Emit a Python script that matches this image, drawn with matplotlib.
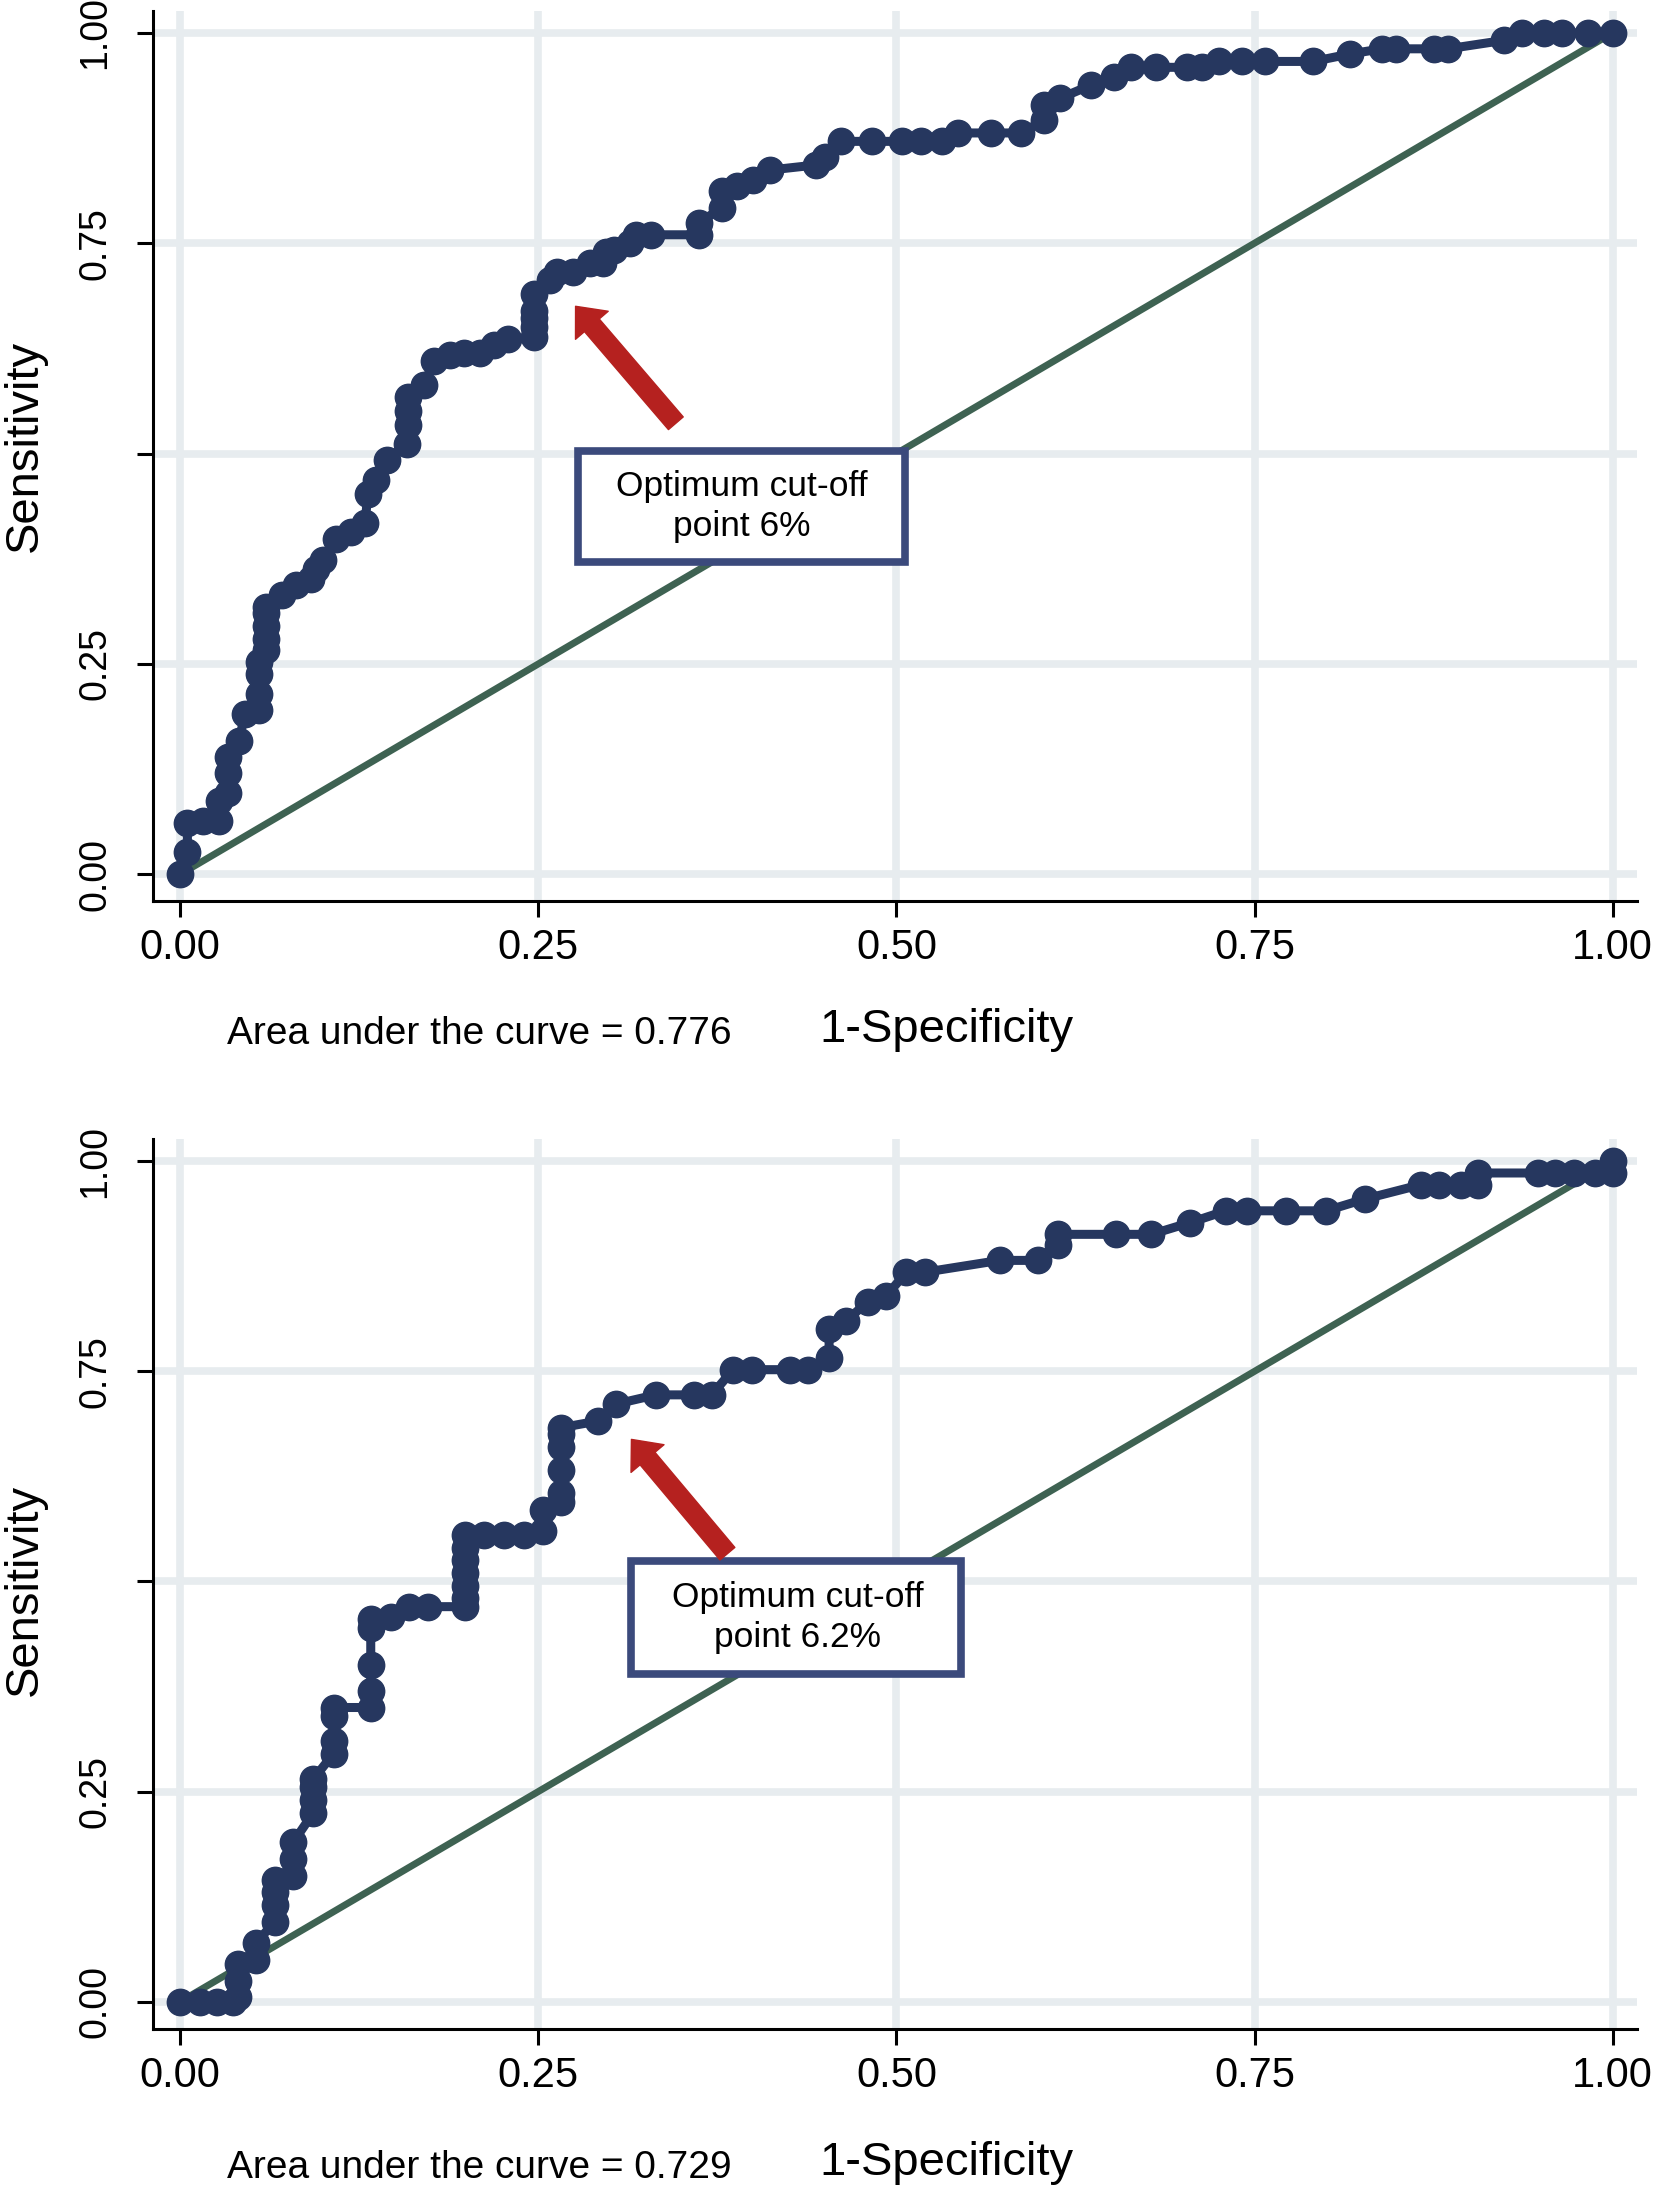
import matplotlib
matplotlib.use("Agg")
import matplotlib.pyplot as plt
from matplotlib.patches import Rectangle

plt.rcParams['font.family'] = ['Liberation Sans', 'DejaVu Sans']

# ROC data (1-specificity, sensitivity)
top_fpr = [0.0, 0.005, 0.005, 0.016, 0.027, 0.027, 0.033, 0.033, 0.033, 0.041, 0.045,
           0.055, 0.055, 0.055, 0.055, 0.06, 0.06, 0.06, 0.06, 0.06, 0.071, 0.081, 0.091,
           0.095, 0.1, 0.109, 0.119, 0.129, 0.131, 0.137, 0.144, 0.158, 0.159, 0.159, 0.159,
           0.17, 0.177, 0.188, 0.198, 0.209, 0.219, 0.229, 0.247, 0.247, 0.247, 0.247, 0.247,
           0.258, 0.263, 0.274, 0.286, 0.295, 0.297, 0.303, 0.314, 0.318, 0.329, 0.362, 0.362,
           0.378, 0.378, 0.389, 0.4, 0.412, 0.444, 0.45, 0.461, 0.483, 0.504, 0.517, 0.532,
           0.543, 0.566, 0.587, 0.603, 0.603, 0.614, 0.636, 0.652, 0.664, 0.681, 0.703, 0.713,
           0.725, 0.741, 0.757, 0.791, 0.817, 0.839, 0.849, 0.875, 0.885, 0.924, 0.937, 0.952,
           0.965, 0.983, 1.0]
top_tpr = [0.0, 0.026, 0.061, 0.063, 0.063, 0.087, 0.097, 0.12, 0.139, 0.158, 0.19,
           0.195, 0.214, 0.238, 0.252, 0.266, 0.28, 0.295, 0.31, 0.318, 0.332, 0.344, 0.351,
           0.363, 0.374, 0.398, 0.407, 0.417, 0.452, 0.468, 0.492, 0.511, 0.534, 0.55, 0.567,
           0.581, 0.61, 0.617, 0.619, 0.619, 0.629, 0.636, 0.638, 0.65, 0.661, 0.67, 0.69,
           0.706, 0.716, 0.716, 0.726, 0.726, 0.74, 0.742, 0.75, 0.76, 0.76, 0.76, 0.774,
           0.792, 0.812, 0.818, 0.825, 0.837, 0.843, 0.853, 0.871, 0.871, 0.871, 0.871, 0.871,
           0.881, 0.881, 0.881, 0.896, 0.914, 0.922, 0.938, 0.948, 0.959, 0.959, 0.959, 0.959,
           0.966, 0.966, 0.966, 0.966, 0.975, 0.981, 0.981, 0.981, 0.981, 0.991, 1.0, 1.0,
           1.0, 1.0, 1.0]

bottom_fpr = [0.0, 0.014, 0.026, 0.037, 0.04, 0.04, 0.04, 0.053, 0.053, 0.066, 0.066, 0.066,
              0.066, 0.079, 0.079, 0.079, 0.093, 0.093, 0.093, 0.093, 0.107, 0.107, 0.107,
              0.107, 0.133, 0.133, 0.133, 0.133, 0.133, 0.147, 0.16, 0.173, 0.199, 0.199, 0.199,
              0.199, 0.199, 0.199, 0.199, 0.212, 0.226, 0.24, 0.253, 0.253, 0.266, 0.266, 0.266,
              0.266, 0.266, 0.266, 0.292, 0.304, 0.332, 0.359, 0.371, 0.386, 0.399, 0.426, 0.438,
              0.453, 0.453, 0.465, 0.48, 0.493, 0.507, 0.52, 0.572, 0.599, 0.613, 0.613, 0.653,
              0.678, 0.705, 0.73, 0.745, 0.772, 0.8, 0.827, 0.866, 0.879, 0.894, 0.906, 0.906,
              0.948, 0.96, 0.973, 0.988, 1.0, 1.0]
bottom_tpr = [0.0, 0.0, 0.0, 0.0, 0.005, 0.025, 0.045, 0.05, 0.07, 0.095, 0.115, 0.13,
              0.145, 0.15, 0.17, 0.19, 0.225, 0.24, 0.255, 0.265, 0.295, 0.31, 0.34,
              0.35, 0.35, 0.37, 0.4, 0.445, 0.455, 0.458, 0.47, 0.47, 0.47, 0.48, 0.495,
              0.51, 0.525, 0.54, 0.555, 0.555, 0.555, 0.555, 0.56, 0.585, 0.595, 0.605, 0.633,
              0.66, 0.675, 0.683, 0.691, 0.711, 0.722, 0.722, 0.722, 0.752, 0.752, 0.752, 0.752,
              0.766, 0.8, 0.81, 0.833, 0.84, 0.868, 0.868, 0.882, 0.882, 0.9, 0.913, 0.913,
              0.913, 0.927, 0.941, 0.941, 0.941, 0.941, 0.955, 0.972, 0.972, 0.972, 0.972, 0.986,
              0.986, 0.986, 0.986, 0.986, 0.986, 1.0]

ticks = [0, 0.25, 0.5, 0.75, 1.0]
xtick_labels = ["0.00", "0.25", "0.50", "0.75", "1.00"]
ytick_labels = ["0.00", "0.25", "", "0.75", "1.00"]

panels = [
    dict(fpr=top_fpr, tpr=top_tpr, auc="Area under the curve = 0.776",
         note="Optimum cut-off\npoint 6%", pos=[0.0923, 0.5883, 0.895, 0.4067],
         box=(0.278, 0.371, 0.228, 0.132), text_xy=(0.392, 0.437),
         arrow_tail=(0.346, 0.536), arrow_head=(0.276, 0.675),
         ylab_y=0.7963, foot_y=0.5276),
    dict(fpr=bottom_fpr, tpr=bottom_tpr, auc="Area under the curve = 0.729",
         note="Optimum cut-off\npoint 6.2%", pos=[0.0923, 0.0733, 0.895, 0.4062],
         box=(0.315, 0.39, 0.23, 0.134), text_xy=(0.431, 0.457),
         arrow_tail=(0.382, 0.533), arrow_head=(0.315, 0.669),
         ylab_y=0.2735, foot_y=0.0098),
]

navy = '#26375f'
fig = plt.figure(figsize=(16.58, 21.89), dpi=100)

for p in panels:
    ax = fig.add_axes(p['pos'])
    ax.set_xlim(-0.019, 1.017)
    ax.set_ylim(-0.032, 1.026)
    ax.set_xticks(ticks)
    ax.set_xticklabels(xtick_labels)
    ax.set_yticks(ticks)
    ax.set_yticklabels(ytick_labels, rotation=90, va='center')
    ax.tick_params(axis='x', length=11.5, width=2.2, pad=8, labelsize=30)
    ax.tick_params(axis='y', length=11.5, width=2.2, pad=17, labelsize=27)
    for s in ['top', 'right']:
        ax.spines[s].set_visible(False)
    for s in ['left', 'bottom']:
        ax.spines[s].set_linewidth(2.2)
    ax.grid(True, color='#e7ecef', linewidth=5.5)
    ax.set_axisbelow(True)

    # reference diagonal
    ax.plot([0, 1], [0, 1], color='#3e6252', linewidth=5, zorder=2)
    # ROC curve
    ax.plot(p['fpr'], p['tpr'], color=navy, linewidth=6.5, marker='o',
            markersize=19, zorder=4, clip_on=False)

    bx, by, bw, bh = p['box']
    ax.add_patch(Rectangle((bx, by), bw, bh, facecolor='white', edgecolor='#3b4a7c',
                           linewidth=5.5, zorder=3))
    ax.text(p['text_xy'][0], p['text_xy'][1], p['note'], ha='center', va='center',
            fontsize=25.5, linespacing=1.25, zorder=5)
    ax.annotate('', xy=p['arrow_head'], xytext=p['arrow_tail'],
                arrowprops=dict(arrowstyle='simple,head_length=18,head_width=31,tail_width=14',
                                mutation_scale=1, color='#b5211f', shrinkA=0, shrinkB=0),
                zorder=6)

    fig.text(0.015, p['ylab_y'], 'Sensitivity', rotation=90, ha='center', va='center',
             fontsize=34)
    fig.text(0.137, p['foot_y'], p['auc'], ha='left', va='center', fontsize=28)
    fig.text(0.571, p['foot_y'] + 0.002, '1-Specificity', ha='center', va='center',
             fontsize=34)

fig.savefig('out.png', dpi=100)
